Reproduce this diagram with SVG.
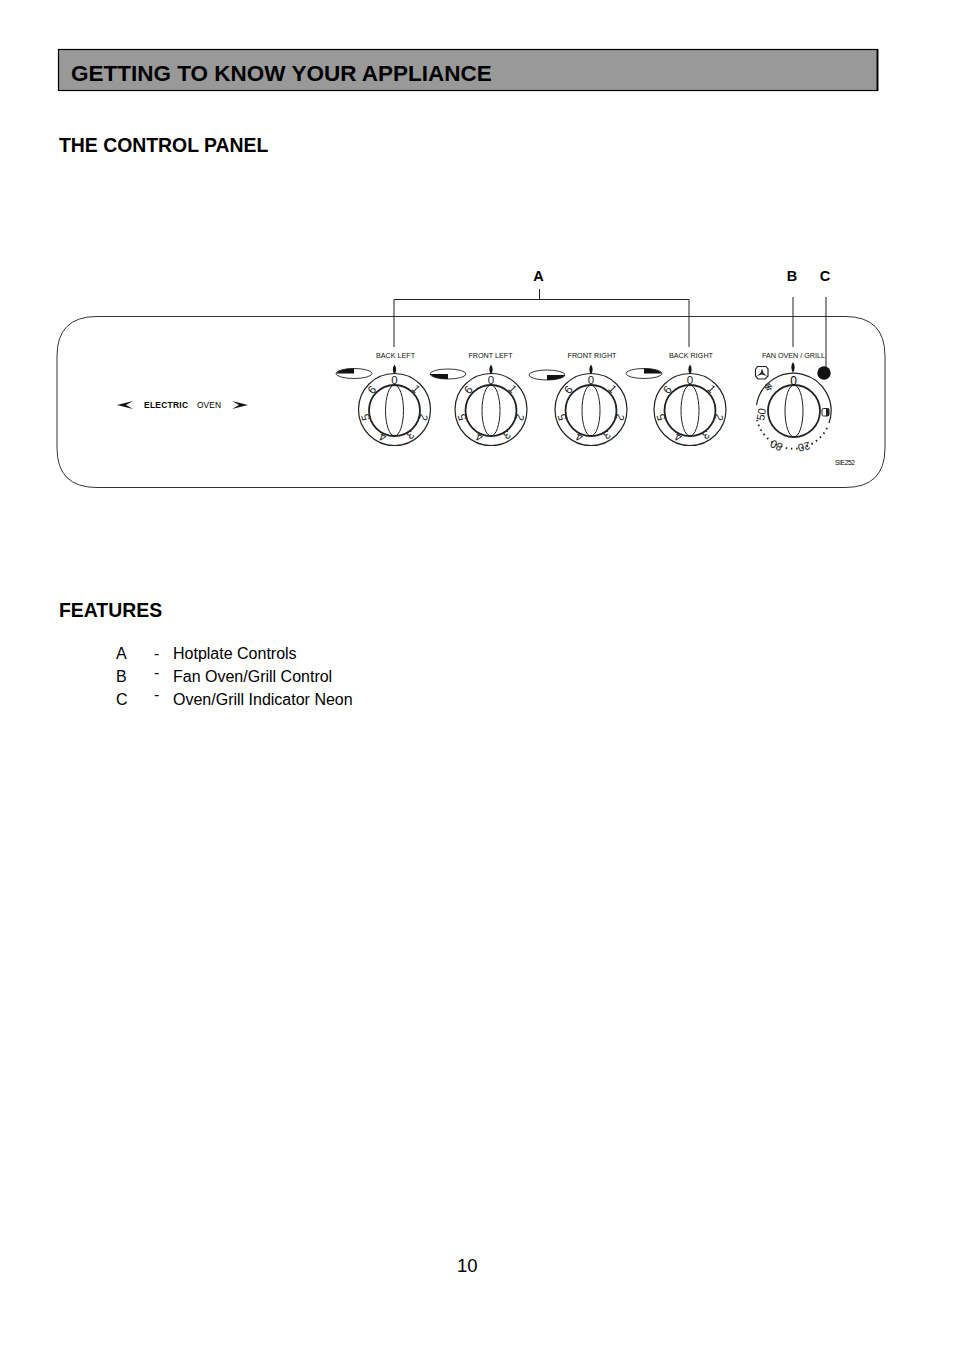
<svg xmlns="http://www.w3.org/2000/svg" width="954" height="1351" viewBox="0 0 954 1351">
<style>
text{font-family:"Liberation Sans",Arial,sans-serif;fill:#000}
.h{font-weight:bold;font-size:19.400px}
.big{font-weight:bold;font-size:22.500px}
.b{font-size:16px}
.lab{font-size:7.200px;text-anchor:middle;fill:#111}
.key{font-weight:bold;font-size:14.500px;text-anchor:middle}
.n{font-size:11.500px;text-anchor:middle;fill:#222}
.f{font-size:11px;text-anchor:middle;fill:#222}
.ln{fill:none;stroke:#222;stroke-width:1}
.k{fill:none;stroke:#222;stroke-width:1.200}
.ki{fill:none;stroke:#222;stroke-width:1.800}
.pill{fill:#fff;stroke:#222;stroke-width:.9}
</style>
<defs>
<g id="dial">
<circle class="k" r="36"/>
<circle class="ki" r="25.500" cy="1"/>
<ellipse class="ln" rx="9" ry="25.500" cy="1"/>
<path d="M0-45C-2.200-42-2.200-38 0-35C2.200-38 2.200-42 0-45Z" fill="#111"/>
</g>
<g id="nums">
<text class="n" transform="rotate(0) translate(0,-26)">0</text>
<text class="n" transform="rotate(46) translate(0,-26)">1</text>
<text class="n" transform="rotate(105) translate(0,-26)">2</text>
<text class="n" transform="rotate(148) translate(0,-26)">3</text>
<text class="n" transform="rotate(203) translate(0,-26)">4</text>
<text class="n" transform="rotate(255) translate(0,-26)">5</text>
<text class="n" transform="rotate(311) translate(0,-26)">6</text>
</g>
</defs>

<g id="title-bar">
<rect x="58.500" y="49.500" width="819" height="41" fill="#999" stroke="#000" stroke-width="1.200"/>
<path d="M877.500 49V91" stroke="#000" stroke-width="1.800"/>
<text class="big" x="71" y="81">GETTING TO KNOW YOUR APPLIANCE</text>
</g>
<g id="heading-panel"><text class="h" x="59" y="152">THE CONTROL PANEL</text></g>

<g id="panel">
<path d="M97 316.500H845Q885 316.500 885 356V448Q885 487.500 845 487.500H97Q57 487.500 57 448V356Q57 316.500 97 316.500Z" fill="#fff" stroke="#333" stroke-width="1"/>
</g>

<g id="connectors">
<path class="ln" d="M539.500 289V299.500M394 299.500H689M394 299.500V347M689 299.500V347M793 297V347M826 297V367"/>
</g>

<g id="callouts">
<text class="key" x="538.500" y="281">A</text>
<text class="key" x="792" y="281">B</text>
<text class="key" x="825" y="281">C</text>
</g>

<g id="electric-oven">
<path d="M117 405L133 401L126 405L133 409Z" fill="#111"/>
<text x="144" y="408" font-size="8.400" font-weight="bold" textLength="44">ELECTRIC</text>
<text x="197" y="408" font-size="8.400" textLength="24">OVEN</text>
<path d="M248 405L232 401L239 405L232 409Z" fill="#111"/>
</g>

<g id="knob-back-left">
<text class="lab" x="395.500" y="358">BACK LEFT</text>
<ellipse class="pill" cx="354" cy="373.500" rx="18" ry="5"/>
<path d="M336 373.500C338 370.500 345 368.500 354 368.500V373.500Z" fill="#111"/>
<g transform="translate(394.500,409.500)"><use href="#dial"/><use href="#nums"/></g>
</g>

<g id="knob-front-left">
<text class="lab" x="490.500" y="358">FRONT LEFT</text>
<ellipse class="pill" cx="448" cy="374" rx="18" ry="5"/>
<path d="M430 374C432 377 439 379 448 379V374Z" fill="#111"/>
<g transform="translate(491,409.500)"><use href="#dial"/><use href="#nums"/></g>
</g>

<g id="knob-front-right">
<text class="lab" x="592" y="358">FRONT RIGHT</text>
<ellipse class="pill" cx="547" cy="375" rx="18" ry="5"/>
<path d="M565 375C563 378 556 380 547 380V375Z" fill="#111"/>
<g transform="translate(591,409.500)"><use href="#dial"/><use href="#nums"/></g>
</g>

<g id="knob-back-right">
<text class="lab" x="691" y="358">BACK RIGHT</text>
<ellipse class="pill" cx="644" cy="373.500" rx="18" ry="5"/>
<path d="M662 373.500C660 370.500 653 368.500 644 368.500V373.500Z" fill="#111"/>
<g transform="translate(690,409.500)"><use href="#dial"/><use href="#nums"/></g>
</g>

<g id="knob-fan-oven">
<text class="lab" x="793.500" y="358">FAN OVEN / GRILL</text>
<path d="M793 362C790.800 365 790.800 369 793 373C795.200 369 795.200 365 793 362Z" fill="#111"/>
<path d="M757.500 366.500H766L768 369V376L765 379H758L755.500 376V369.500Z" fill="#fff" stroke="#222" stroke-width="1.200"/>
<path d="M762 368.500L760.500 373L756.500 376L762 374.500L767 376L763.500 373Z" fill="#222"/>
<path class="k" d="M756.500 405A37.500 37.500 0 1 1 829 423"/>
<path d="M827 428A37.500 37.500 0 0 1 757 420" fill="none" stroke="#222" stroke-width="1.900" stroke-dasharray="1.500 3.800"/>
<circle class="ki" cx="794" cy="411" r="26"/>
<ellipse class="ln" cx="794" cy="411" rx="9" ry="26"/>
<text x="793.500" y="384.500" font-size="12" text-anchor="middle" fill="#222">0</text>
<text class="f" transform="translate(771.500,390) rotate(-45)">❄</text>
<text class="f" transform="translate(765,415) rotate(-80)">50</text>
<text class="f" transform="translate(778,442) rotate(-155)">80</text>
<text class="f" transform="translate(803,443) rotate(165)">20</text>
<rect x="822" y="408.500" width="7" height="7.500" rx="1.500" fill="#fff" stroke="#222" stroke-width="1"/>
<path d="M826 408.500H829V416H826Z" fill="#222"/>
</g>

<g id="neon-indicator"><circle cx="824" cy="373" r="6.700" fill="#111"/></g>

<g id="code"><text x="835" y="465" font-size="6.600" textLength="20" fill="#222">SIE252</text></g>

<g id="features">
<text class="h" x="59" y="617">FEATURES</text>
<text class="b" x="116" y="659">A</text><text class="b" x="154" y="659">-</text><text class="b" x="173" y="659">Hotplate Controls</text>
<text class="b" x="116" y="682">B</text><text class="b" x="154" y="678">-</text><text class="b" x="173" y="682">Fan Oven/Grill Control</text>
<text class="b" x="116" y="705">C</text><text class="b" x="154" y="700">-</text><text class="b" x="173" y="705">Oven/Grill Indicator Neon</text>
</g>

<g id="page-number"><text x="457" y="1272" font-size="18.500">10</text></g>
</svg>
